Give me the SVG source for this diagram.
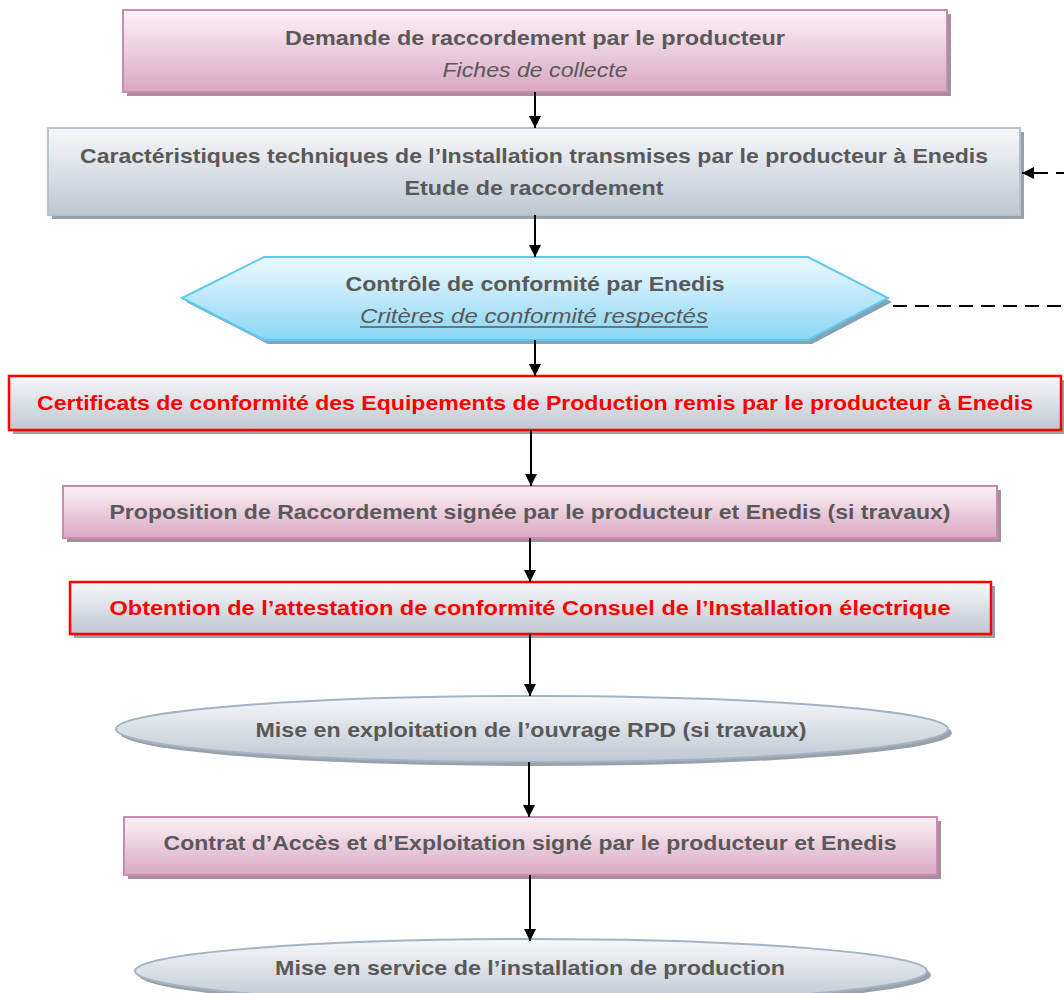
<svg xmlns="http://www.w3.org/2000/svg" width="1064" height="993" viewBox="0 0 1064 993">
<defs>
<linearGradient id="gPink" x1="0" y1="0" x2="0" y2="1"><stop offset="0" stop-color="#fcf2f7"/><stop offset="1" stop-color="#d9a8c2"/></linearGradient>
<linearGradient id="gGray" x1="0" y1="0" x2="0" y2="1"><stop offset="0" stop-color="#f7f8fa"/><stop offset="1" stop-color="#bfc7d1"/></linearGradient>
<linearGradient id="gBlue" x1="0" y1="0" x2="0" y2="1"><stop offset="0" stop-color="#eef9ff"/><stop offset="1" stop-color="#8ad6f4"/></linearGradient>
<marker id="arr" viewBox="0 0 10 10" refX="10" refY="5" markerWidth="14" markerHeight="12" markerUnits="userSpaceOnUse" orient="auto-start-reverse"><path d="M0,0 L10,5 L0,10 z" fill="#000"/></marker>
<style>
.t{font-family:"Liberation Sans",Arial,sans-serif;font-weight:bold;font-size:21px;fill:#595959;text-anchor:middle}
.i{font-family:"Liberation Sans",Arial,sans-serif;font-style:italic;font-size:21px;fill:#595959;text-anchor:middle}
.r{fill:#ff0000}
.shP{fill:#a58f9b}
.shG{fill:#9aa1a9}
.pink{fill:url(#gPink);stroke:#c98bb0;stroke-width:2}
.gray{fill:url(#gGray);stroke:#b5c1ce;stroke-width:2}
.red{fill:url(#gGray);stroke:#ff0000;stroke-width:2.5}
.blue{fill:url(#gBlue);stroke:#5cc8f4;stroke-width:2}
.ell{fill:url(#gGray);stroke:#a3b3c4;stroke-width:2}
.c{stroke:#000;stroke-width:2;fill:none}
</style>
</defs>
<rect width="1064" height="993" fill="#fff"/>

<g id="n1">
<rect class="shP" x="127" y="14" width="824" height="82"/>
<rect class="pink" x="123" y="10" width="824" height="82"/>
<text class="t" x="535" y="45" textLength="500" lengthAdjust="spacingAndGlyphs">Demande de raccordement par le producteur</text>
<text class="i" x="535" y="77" textLength="185" lengthAdjust="spacingAndGlyphs">Fiches de collecte</text>
</g>

<g id="n2">
<rect class="shG" x="52" y="132" width="972" height="87"/>
<rect class="gray" x="48" y="128" width="972" height="87"/>
<text class="t" x="534" y="163" textLength="908" lengthAdjust="spacingAndGlyphs">Caractéristiques techniques de l’Installation transmises par le producteur à Enedis</text>
<text class="t" x="534" y="195" textLength="259" lengthAdjust="spacingAndGlyphs">Etude de raccordement</text>
</g>

<g id="n3">
<polygon points="186,302 268,261 812,261 892,302 812,344 268,344" fill="#86a3b3"/>
<polygon class="blue" points="182,298 264,257 808,257 888,298 808,340 264,340"/>
<text class="t" x="535" y="291" textLength="379" lengthAdjust="spacingAndGlyphs">Contrôle de conformité par Enedis</text>
<text class="i" x="534" y="323" textLength="348" lengthAdjust="spacingAndGlyphs">Critères de conformité respectés</text>
<line x1="360" y1="327" x2="708" y2="327" stroke="#595959" stroke-width="1.3"/>
</g>

<g id="n4">
<rect class="shG" x="13" y="380" width="1052" height="54"/>
<rect class="red" x="9" y="376" width="1052" height="54"/>
<text class="t r" x="535" y="410" textLength="996" lengthAdjust="spacingAndGlyphs">Certificats de conformité des Equipements de Production remis par le producteur à Enedis</text>
</g>

<g id="n5">
<rect class="shP" x="67" y="490" width="934" height="52"/>
<rect class="pink" x="63" y="486" width="934" height="52"/>
<text class="t" x="530" y="519" textLength="841" lengthAdjust="spacingAndGlyphs">Proposition de Raccordement signée par le producteur et Enedis (si travaux)</text>
</g>

<g id="n6">
<rect class="shG" x="74" y="586" width="921" height="52"/>
<rect class="red" x="70" y="582" width="921" height="52"/>
<text class="t r" x="530" y="615" textLength="841" lengthAdjust="spacingAndGlyphs">Obtention de l’attestation de conformité Consuel de l’Installation électrique</text>
</g>

<g id="n7">
<ellipse cx="536" cy="733" rx="416" ry="33" fill="#9aa1a9"/>
<ellipse class="ell" cx="532" cy="729" rx="416" ry="33"/>
<text class="t" x="531" y="737" textLength="551" lengthAdjust="spacingAndGlyphs">Mise en exploitation de l’ouvrage RPD (si travaux)</text>
</g>

<g id="n8">
<rect class="shP" x="128" y="821" width="813" height="58"/>
<rect class="pink" x="124" y="817" width="813" height="58"/>
<text class="t" x="530" y="850" textLength="733" lengthAdjust="spacingAndGlyphs">Contrat d’Accès et d’Exploitation signé par le producteur et Enedis</text>
</g>

<g id="n9">
<ellipse cx="535" cy="975" rx="396" ry="32" fill="#9aa1a9"/>
<ellipse class="ell" cx="531" cy="971" rx="396" ry="32"/>
<text class="t" x="530" y="975" textLength="510" lengthAdjust="spacingAndGlyphs">Mise en service de l’installation de production</text>
</g>

<g id="connectors">
<line class="c" x1="535" y1="92" x2="535" y2="128" marker-end="url(#arr)"/>
<line class="c" x1="535" y1="215" x2="535" y2="257" marker-end="url(#arr)"/>
<line class="c" x1="535" y1="340" x2="535" y2="376" marker-end="url(#arr)"/>
<line class="c" x1="531" y1="430" x2="531" y2="486" marker-end="url(#arr)"/>
<line class="c" x1="530" y1="538" x2="530" y2="582" marker-end="url(#arr)"/>
<line class="c" x1="530" y1="634" x2="530" y2="696" marker-end="url(#arr)"/>
<line class="c" x1="529" y1="762" x2="529" y2="817" marker-end="url(#arr)"/>
<line class="c" x1="530" y1="875" x2="530" y2="941" marker-end="url(#arr)"/>
<path class="c" d="M1022,173 H1080 V306 H888" stroke-dasharray="14,8" stroke-dashoffset="10" marker-start="url(#arr)"/>
</g>
</svg>
